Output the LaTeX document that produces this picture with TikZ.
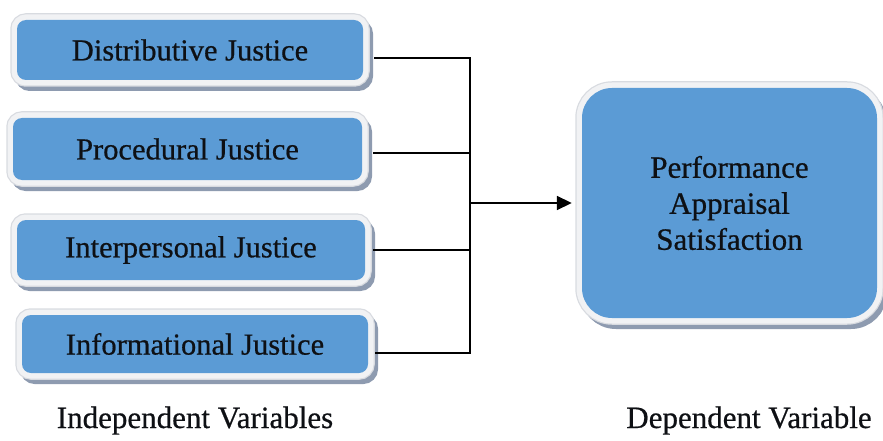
\documentclass[tikz,border=0pt]{standalone}
\usepackage{fontspec}
\setmainfont{Liberation Serif}[FakeBold=0.6]
\usetikzlibrary{arrows.meta,calc}
\definecolor{boxblue}{HTML}{5B9BD5}
\definecolor{framec}{HTML}{F1F2F4}
\definecolor{frameedge}{HTML}{D8DBE0}
\definecolor{shadowc}{HTML}{8E9BB0}
\definecolor{txtc}{HTML}{0E1014}
\tikzset{
  ivbox/.style={fill=boxblue, rounded corners=#1, inner sep=0pt, text=txtc,
    preaction={draw=shadowc, line width=12pt, transform canvas={shift={(4pt,-5pt)}}},
    preaction={draw=frameedge, line width=13.5pt},
    preaction={draw=framec, line width=11pt}},
  ivbox/.default=9pt,
  conn/.style={draw=black, line width=1.8pt},
  lbl/.style={text=txtc, font=\fontsize{31}{36}\selectfont, anchor=base}
}
\begin{document}
\begin{tikzpicture}[x=1pt,y=-1pt]
\useasboundingbox (0,0) rectangle (883,441);
\node[ivbox, minimum width=346pt, minimum height=60pt, font=\fontsize{30.5}{35}\selectfont] (b1) at (190,50) {Distributive Justice};
\node[ivbox, minimum width=349pt, minimum height=62pt, font=\fontsize{30.5}{35}\selectfont] (b2) at (187.5,149) {Procedural Justice};
\node[ivbox, minimum width=348pt, minimum height=60pt, font=\fontsize{30.5}{35}\selectfont] (b3) at (191,250) {Interpersonal Justice};
\node[ivbox, minimum width=346pt, minimum height=58pt, font=\fontsize{30.5}{35}\selectfont] (b4) at (195,344) {Informational Justice};
\node[ivbox=30pt, minimum width=295pt, minimum height=230pt, align=center, font=\fontsize{31}{36}\selectfont] (pa) at (729.5,203) {Performance\\Appraisal\\Satisfaction};
\coordinate (j) at (470,203);
\draw[conn] ([xshift=11pt,yshift=-8pt]b1.east) -| (j);
\draw[conn] ([xshift=11pt,yshift=-4pt]b2.east) -| (j);
\draw[conn] ([xshift=8pt]b3.east) -| (j);
\draw[conn] ([xshift=7pt,yshift=-9pt]b4.east) -| (j);
\draw[conn, -{Triangle[length=15pt,width=14pt]}, shorten >=10pt] (j) -- (pa.west);
\node[lbl] (iv) at (195,428) {Independent Variables};
\node[lbl] (dv) at (749,428) {Dependent Variable};
\end{tikzpicture}
\end{document}
